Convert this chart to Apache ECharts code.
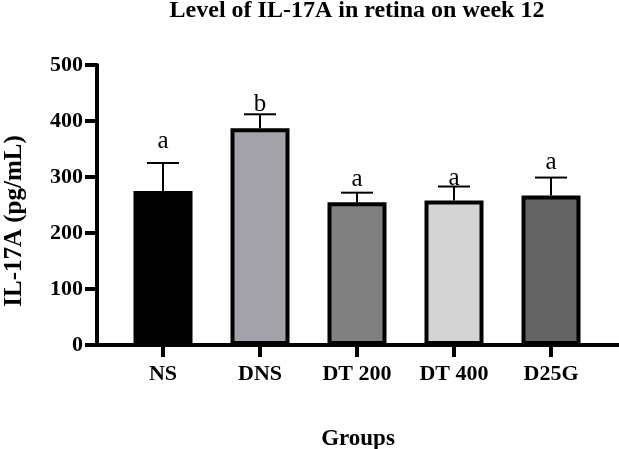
<!DOCTYPE html>
<html>
<head>
<meta charset="utf-8">
<script src="https://cdn.jsdelivr.net/npm/echarts@6/dist/echarts.min.js"></script>
<style>
  html, body { margin: 0; padding: 0; background: #fff; }
  #main { width: 619px; height: 449px; }
</style>
</head>
<body>
<div id="main"></div>
<script>
var serif = '"Liberation Serif", "Times New Roman", serif';

// values
var categories = ['NS', 'DNS', 'DT 200', 'DT 400', 'D25G'];
var means = [275, 387, 255, 258, 267];
var errors = [50, 25, 17, 25, 32];
var letters = ['a', 'b', 'a', 'a', 'a'];
var letterBase = [349, 416, 282, 284, 312];
var barColors = ['#000000', '#a3a2a8', '#808080', '#d4d4d4', '#636363'];
var yMin = 0, yMax = 500, yStep = 100;

var chart = echarts.init(document.getElementById('main'));

var barData = means.map(function (v, i) {
  return { value: v, itemStyle: { color: barColors[i] } };
});
var errData = means.map(function (v, i) {
  return [i, v, errors[i], letterBase[i]];
});

function renderError(params, api) {
  var i = api.value(0);
  var top = api.coord([i, api.value(1)]);
  var cap = api.coord([i, api.value(1) + api.value(2)]);
  var lt = api.coord([i, api.value(3)]);
  var x = top[0];
  var lineStyle = { stroke: '#000', lineWidth: 2 };
  return {
    type: 'group',
    children: [
      { type: 'line', shape: { x1: x, y1: top[1], x2: x, y2: cap[1] }, style: lineStyle },
      { type: 'line', shape: { x1: x - 16, y1: cap[1], x2: x + 16, y2: cap[1] }, style: lineStyle },
      {
        type: 'text',
        style: {
          text: letters[i], x: x, y: lt[1] - 8,
          fill: '#000', fontSize: 25, fontFamily: serif,
          align: 'center', verticalAlign: 'middle'
        }
      }
    ]
  };
}

var option = {
  animation: false,
  title: {
    text: 'Level of IL-17A in retina on week 12',
    left: 357, top: -1, padding: 0, textAlign: 'center',
    textStyle: { fontFamily: serif, fontWeight: 'bold', fontSize: 24, color: '#000' }
  },
  grid: [
    { left: 114.5, right: 19.5, top: 65, bottom: 104, containLabel: false, outerBoundsMode: 'none' },
    { left: 97, right: 0, top: 65, bottom: 104, containLabel: false, outerBoundsMode: 'none' }
  ],
  xAxis: [{
    gridIndex: 0,
    type: 'category',
    data: categories,
    axisLine: { show: false },
    axisTick: { show: true, alignWithLabel: true, length: 12, lineStyle: { color: '#000', width: 4 } },
    axisLabel: { margin: 18, color: '#000', fontFamily: serif, fontWeight: 'bold', fontSize: 22 }
  }, {
    gridIndex: 1,
    type: 'value', min: 0, max: 1,
    name: 'Groups', nameLocation: 'middle', nameGap: 83,
    nameTextStyle: { fontFamily: serif, fontWeight: 'bold', fontSize: 23, color: '#000' },
    axisLine: { show: true, lineStyle: { color: '#000', width: 4 } },
    axisTick: { show: false },
    axisLabel: { show: false },
    splitLine: { show: false }
  }],
  yAxis: [{
    gridIndex: 0,
    type: 'value', min: yMin, max: yMax, interval: yStep,
    show: false
  }, {
    gridIndex: 1,
    type: 'value', min: yMin, max: yMax, interval: yStep,
    name: 'IL-17A (pg/mL)', nameLocation: 'middle', nameGap: 70, nameRotate: 90,
    nameTextStyle: { fontFamily: serif, fontWeight: 'bold', fontSize: 25, color: '#000', padding: [0, 32, 0, 0] },
    axisLine: { show: true, lineStyle: { color: '#000', width: 4 } },
    axisTick: { show: true, length: 12, lineStyle: { color: '#000', width: 4 } },
    axisLabel: { margin: 14, color: '#000', fontFamily: serif, fontWeight: 'bold', fontSize: 22 },
    splitLine: { show: false }
  }],
  series: [{
    type: 'bar',
    xAxisIndex: 0, yAxisIndex: 0,
    barWidth: 59,
    data: barData,
    itemStyle: { borderColor: '#000', borderWidth: 4 }
  }, {
    type: 'custom',
    xAxisIndex: 0, yAxisIndex: 0,
    renderItem: renderError,
    data: errData,
    encode: { x: 0, y: 1 },
    clip: false,
    z: 3
  }]
};

chart.setOption(option);
</script>
</body>
</html>
